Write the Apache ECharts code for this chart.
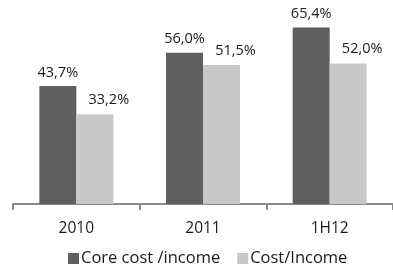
<!DOCTYPE html>
<html>
<head>
<meta charset="utf-8">
<script src="https://cdn.jsdelivr.net/npm/echarts@6/dist/echarts.min.js"></script>
<style>
  html, body { margin: 0; padding: 0; background: #fff; }
  #chart { width: 393px; height: 266px; }
</style>
</head>
<body>
<div id="chart"></div>
<script>
// data
var categories = ['2010', '2011', '1H12'];
var coreCost = [43.7, 56.0, 65.4];
var costIncome = [33.2, 51.5, 52.0];
var seriesNames = ['Core cost /income', 'Cost/Income'];

function fmt(p) {
    return p.value.toFixed(1).replace('.', ',') + '%';
}

var font = 'Open Sans';
var myChart = echarts.init(document.getElementById('chart'));
var option = {
    backgroundColor: '#fff',
    animation: false,
    textStyle: { fontFamily: font },
    grid: {
        left: 13,
        right: -10,
        top: 15,
        bottom: 62
    },
    legend: {
        data: seriesNames,
        left: 63,
        top: 245,
        itemWidth: 11,
        itemHeight: 11,
        itemGap: 17,
        icon: 'rect',
        textStyle: { fontFamily: font, fontSize: 16.5, color: '#1a1a1a', padding: [0, 0, 0, -3] }
    },
    xAxis: {
        type: 'category',
        data: categories,
        axisLine: { show: true, lineStyle: { color: '#8a8a8a', width: 2 } },
        axisTick: { show: true, interval: 0, length: 6, lineStyle: { color: '#8a8a8a', width: 2 } },
        axisLabel: { margin: 17, fontFamily: font, fontSize: 15.5, color: '#1a1a1a' }
    },
    yAxis: {
        type: 'value',
        min: 0,
        max: 70,
        show: false,
        splitLine: { show: false }
    },
    series: [
        {
            name: seriesNames[0],
            type: 'bar',
            barWidth: 37,
            barGap: '0%',
            itemStyle: { color: '#5f5f5f' },
            label: {
                show: true,
                position: 'top',
                distance: 6,
                formatter: fmt,
                fontFamily: font,
                fontSize: 14.5,
                color: '#1a1a1a'
            },
            data: coreCost
        },
        {
            name: seriesNames[1],
            type: 'bar',
            barWidth: 37,
            barGap: '0%',
            itemStyle: { color: '#c8c8c8' },
            label: {
                show: true,
                position: 'top',
                distance: 7,
                offset: [14, 0],
                formatter: fmt,
                fontFamily: font,
                fontSize: 14.5,
                color: '#1a1a1a'
            },
            data: costIncome
        }
    ]
};
myChart.setOption(option);
</script>
</body>
</html>
